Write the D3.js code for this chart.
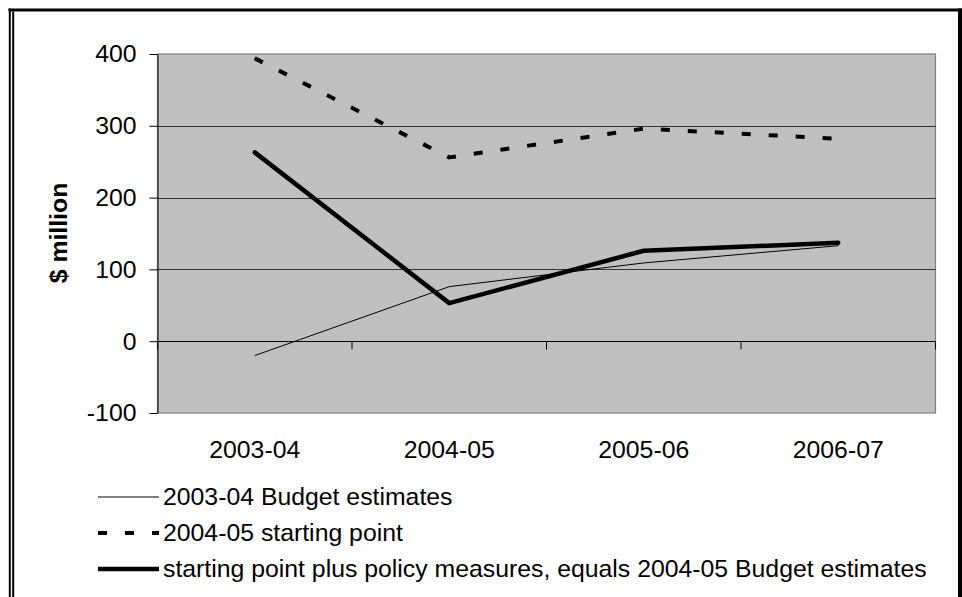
<!DOCTYPE html>
<html>
<head>
<meta charset="utf-8">
<script src="https://cdn.jsdelivr.net/npm/d3@7"></script>
<style>
  body { margin: 0; background: #fff; }
  svg text { font-family: "Liberation Sans", Arial, sans-serif; fill: #000; }
</style>
</head>
<body>
<div id="chart"></div>
<script>
// chart data
const categories = ["2003-04", "2004-05", "2005-06", "2006-07"];
const budget0304 = [-20, 76, 109, 133];
const startingPoint = [394, 256, 296, 282];
const policyMeasures = [263, 53, 126, 137];
const yTicks = [-100, 0, 100, 200, 300, 400];
const seriesNames = [
  "2003-04 Budget estimates",
  "2004-05 starting point",
  "starting point plus policy measures, equals 2004-05 Budget estimates"
];

const width = 962;
const height = 597;
const plot = { left: 157.5, right: 935.5, top: 54, bottom: 413 };
const fontSize = 24.8;

// line style for each series, in the same order as seriesNames
const styles = [
  { width: 1, dash: null, cap: "butt" },
  { width: 4, dash: "9,18", cap: "butt" },
  { width: 4.5, dash: null, cap: "round" }
];
const seriesValues = [budget0304, startingPoint, policyMeasures];

let svg = d3.select("#chart")
  .append("svg")
  .attr("width", width)
  .attr("height", height);

svg.append("rect").attr("width", width).attr("height", height).attr("fill", "#fff");

// outer frame (double line on the left)
svg.append("line").attr("x1", 8.5).attr("x2", width).attr("y1", 10).attr("y2", 10)
  .attr("stroke", "#000").attr("stroke-width", 3);
svg.append("line").attr("x1", 9.8).attr("x2", 9.8).attr("y1", 8.5).attr("y2", height)
  .attr("stroke", "#000").attr("stroke-width", 2);
svg.append("line").attr("x1", 13.2).attr("x2", 13.2).attr("y1", 11.5).attr("y2", height)
  .attr("stroke", "#000").attr("stroke-width", 2);
svg.append("rect").attr("x", 958).attr("y", 8.5).attr("width", 4).attr("height", height)
  .attr("fill", "#000");

// scales
const x = d3.scaleBand()
  .domain(categories)
  .range([plot.left, plot.right])
  .padding(0);
const y = d3.scaleLinear()
  .domain([d3.min(yTicks), d3.max(yTicks)])
  .range([plot.bottom, plot.top]);

// plot area
svg.append("rect")
  .attr("x", plot.left).attr("y", plot.top)
  .attr("width", plot.right - plot.left).attr("height", plot.bottom - plot.top)
  .attr("fill", "#c0c0c0").attr("stroke", "#808080").attr("stroke-width", 1.2);

// gridlines
svg.append("g").selectAll("line")
  .data(yTicks.filter(d => d > 0 && d < d3.max(yTicks)))
  .join("line")
  .attr("x1", plot.left).attr("x2", plot.right)
  .attr("y1", d => Math.round(y(d)) + 0.5).attr("y2", d => Math.round(y(d)) + 0.5)
  .attr("stroke", "#333").attr("stroke-width", 1);

// y axis
const yAxis = svg.append("g")
  .attr("transform", `translate(${plot.left},0)`)
  .call(d3.axisLeft(y)
    .tickValues(yTicks)
    .tickFormat(d => String(d))
    .tickSize(8).tickPadding(13).tickSizeOuter(0));
yAxis.select(".domain").attr("stroke", "#000");
yAxis.selectAll(".tick line").attr("stroke", "#000");
yAxis.selectAll(".tick text")
  .attr("font-size", fontSize)
  .attr("font-family", "Liberation Sans, Arial, sans-serif");

// x axis drawn at zero, ticks at category boundaries
const y0 = Math.round(y(0)) + 0.5;
svg.append("line")
  .attr("x1", plot.left).attr("x2", plot.right)
  .attr("y1", y0).attr("y2", y0)
  .attr("stroke", "#000");
const boundaries = categories.map(c => x(c)).concat([x.range()[1]]);
svg.append("g").selectAll("line")
  .data(boundaries)
  .join("line")
  .attr("x1", d => d).attr("x2", d => d)
  .attr("y1", y0).attr("y2", y0 + 8)
  .attr("stroke", "#000");
svg.append("g").selectAll("text")
  .data(categories)
  .join("text")
  .attr("x", d => x(d) + x.bandwidth() / 2)
  .attr("y", 458)
  .attr("text-anchor", "middle")
  .attr("font-size", fontSize)
  .text(d => d);

// y axis title
svg.append("text")
  .attr("transform", "translate(67,233) rotate(-90)")
  .attr("text-anchor", "middle")
  .attr("font-size", fontSize)
  .attr("font-weight", "bold")
  .text("$ million");

// series lines
const line = d3.line()
  .x((d, i) => x(categories[i]) + x.bandwidth() / 2)
  .y(d => y(d));

svg.append("g").selectAll("path")
  .data(seriesValues)
  .join("path")
  .attr("d", d => line(d))
  .attr("fill", "none")
  .attr("stroke", "#000")
  .attr("stroke-width", (d, i) => styles[i].width)
  .attr("stroke-dasharray", (d, i) => styles[i].dash)
  .attr("stroke-linecap", (d, i) => styles[i].cap)
  .attr("stroke-linejoin", "round");

// legend
const legend = svg.append("g").selectAll("g")
  .data(seriesNames)
  .join("g")
  .attr("transform", (d, i) => `translate(0,${497 + i * 36})`);
legend.append("line")
  .attr("x1", 98).attr("x2", 159)
  .attr("y1", 0).attr("y2", 0)
  .attr("stroke", "#000")
  .attr("stroke-width", (d, i) => styles[i].width)
  .attr("stroke-dasharray", (d, i) => styles[i].dash);
legend.append("text")
  .attr("x", 163)
  .attr("y", 8)
  .attr("font-size", fontSize)
  .text(d => d);
</script>
</body>
</html>
